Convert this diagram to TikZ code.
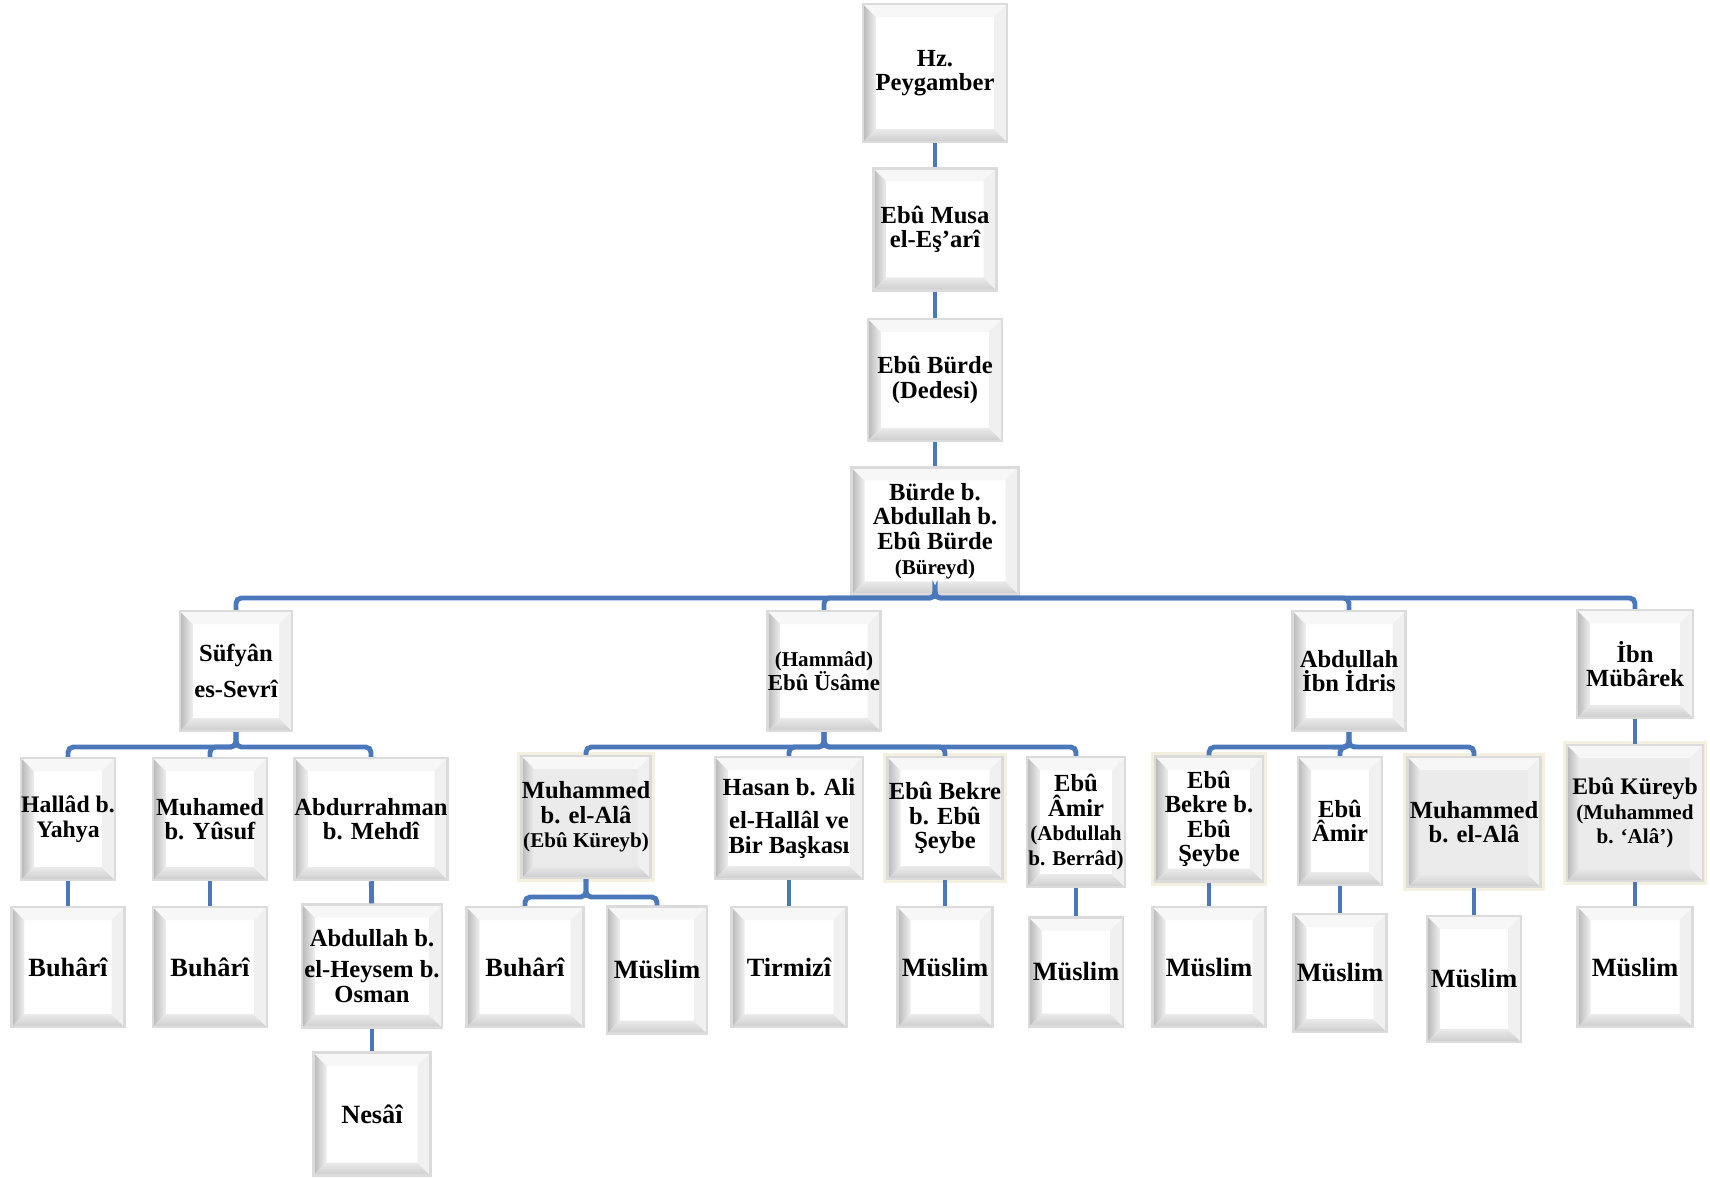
\documentclass[tikz,border=0pt]{standalone}
\usepackage{fontspec}
\setmainfont{Liberation Serif}
\usepackage{tikz}
\usetikzlibrary{positioning, calc}
\definecolor{linkblue}{RGB}{74,120,186}
\definecolor{halo}{RGB}{243,240,224}
\newcommand{\bevelfaces}{%
  \coordinate (bA) at (path picture bounding box.south west);
  \coordinate (bB) at (path picture bounding box.north west);
  \coordinate (bC) at (path picture bounding box.north east);
  \coordinate (bD) at (path picture bounding box.south east);
  \shade[left color=black!28, right color=black!6] (bA) -- (bB) -- ([shift={(0.26cm,-0.26cm)}]bB) -- ([shift={(0.26cm,0.26cm)}]bA) -- cycle;
  \shade[top color=black!8, bottom color=black!20] (bA) -- (bD) -- ([shift={(-0.26cm,0.26cm)}]bD) -- ([shift={(0.26cm,0.26cm)}]bA) -- cycle;
  \fill[black!3] (bB) -- (bC) -- ([shift={(-0.26cm,-0.26cm)}]bC) -- ([shift={(0.26cm,-0.26cm)}]bB) -- cycle;
  \fill[black!6] (bC) -- (bD) -- ([shift={(-0.26cm,0.26cm)}]bD) -- ([shift={(-0.26cm,-0.26cm)}]bC) -- cycle;
}
\newcommand{\subline}[1]{{\fontsize{12}{12}\selectfont #1}}
\tikzstyle{link} = [linkblue, line width=2.8pt, rounded corners=3pt]
\tikzstyle{person} = [rectangle, draw=black!14, line width=1.4pt, fill=white, align=center, inner sep=0pt, font=\bfseries\fontsize{14}{14}\selectfont, path picture={\bevelfaces}]
\tikzstyle{work} = [person, font=\bfseries\fontsize{15}{16}\selectfont]
\tikzstyle{greyface} = [fill=black!8]
\tikzstyle{glow} = [preaction={draw=halo, line width=5pt}]
\tikzset{dims/.style 2 args={minimum width=#1*0.02cm, minimum height=#2*0.02cm}}

\begin{document}
\begin{tikzpicture}[x=0.02cm, y=-0.02cm]
    \useasboundingbox (0,0) rectangle (1710,1177);

    % Chain
    \node[person, dims={144}{138}] (p0) at (935,73) {Hz.\\Peygamber};
    \node[person, dims={123}{122}, below=0.48cm of p0] (p1) {Ebû Musa\\el-Eş'arî};
    \node[person, dims={134}{122}, below=0.52cm of p1] (p2) {Ebû Bürde\\(Dedesi)};
    \node[person, dims={167}{127}, below=0.48cm of p2, font=\bfseries\fontsize{14}{14}\selectfont] (p3) {Bürde b.\\Abdullah b.\\Ebû Bürde\\\subline{(Büreyd)}};

    % Students
    \node[person, dims={112}{120}] (s1) at (236,671) {Süfyân\\[6pt]es-Sevrî};
    \node[person, dims={113}{120}, font=\bfseries\fontsize{13}{14}\selectfont] (s2) at (824,671) {\subline{(Hammâd)}\\Ebû Üsâme};
    \node[person, dims={113}{120}] (s3) at (1349,671) {Abdullah\\İbn İdris};
    \node[person, dims={116}{108}] (s4) at (1635,664) {İbn\\Mübârek};

    % Narrators
    \node[person, dims={93}{122}, font=\bfseries\fontsize{13.5}{14}\selectfont] (t1) at (68,819) {Hallâd b.\\Yahya};
    \node[person, dims={114}{122}] (t2) at (210,819) {Muhamed\\b. Yûsuf};
    \node[person, dims={153}{122}] (t3) at (371,819) {Abdurrahman\\b. Mehdî};
    \node[person, greyface, glow, dims={129}{122}] (t4) at (586,817) {Muhammed\\b. el-Alâ\\\subline{(Ebû Küreyb)}};
    \node[person, dims={148}{122}] (t5) at (789,818) {Hasan b. Ali\\[5pt]el-Hallâl ve\\Bir Başkası};
    \node[person, glow, dims={115}{122}] (t6) at (945,818) {Ebû Bekre\\b. Ebû\\Şeybe};
    \node[person, dims={98}{130}] (t7) at (1076,822) {Ebû\\Âmir\\\subline{(Abdullah}\\\subline{b. Berrâd)}};
    \node[person, glow, dims={108}{125}] (t8) at (1209,819) {Ebû\\Bekre b.\\Ebû\\Şeybe};
    \node[person, dims={84}{128}] (t9) at (1340,821) {Ebû\\Âmir};
    \node[person, greyface, glow, dims={133}{130}] (t10) at (1474,822) {Muhammed\\b. el-Alâ};
    \node[person, greyface, glow, dims={136}{136}, font=\bfseries\fontsize{13.5}{14}\selectfont] (t11) at (1635,813) {Ebû Küreyb\\\subline{(Muhammed}\\\subline{b. ‘Alâ’)}};

    % Collections
    \node[work, dims={113}{120}] (u1) at (68,967) {Buhârî};
    \node[work, dims={114}{120}] (u2) at (210,967) {Buhârî};
    \node[person, dims={140}{123}] (u3) at (372,966) {Abdullah b.\\[4pt]el-Heysem b.\\Osman};
    \node[work, dims={117}{120}] (u4) at (525,967) {Buhârî};
    \node[work, dims={100}{127}] (u5) at (657,970) {Müslim};
    \node[work, dims={115}{120}] (u6) at (789,967) {Tirmizî};
    \node[work, dims={95}{120}] (u7) at (945,967) {Müslim};
    \node[work, dims={94}{109}] (u8) at (1076,972) {Müslim};
    \node[work, dims={113}{120}] (u9) at (1209,967) {Müslim};
    \node[work, dims={93}{118}] (u10) at (1340,973) {Müslim};
    \node[work, dims={94}{126}] (u11) at (1474,979) {Müslim};
    \node[work, dims={115}{120}] (u12) at (1635,967) {Müslim};
    \node[work, dims={117}{123}] (v1) at (372,1114) {Nesâî};

    % Bus levels
    \coordinate (busA) at (0,598);
    \coordinate (busB) at (0,747);
    \coordinate (busC) at (0,897);

    % Links
    \draw[link] (p0) -- (p1);
    \draw[link] (p1) -- (p2);
    \draw[link] (p2) -- (p3);
    \foreach \c in {s1,s2,s3,s4}
        \draw[link] (p3.south) |- (busA -| \c.north) -- (\c.north);
    \foreach \c in {t1,t2,t3}
        \draw[link] (s1.south) |- (busB -| \c.north) -- (\c.north);
    \foreach \c in {t4,t5,t6,t7}
        \draw[link] (s2.south) |- (busB -| \c.north) -- (\c.north);
    \foreach \c in {t8,t9,t10}
        \draw[link] (s3.south) |- (busB -| \c.north) -- (\c.north);
    \draw[link] (s4.south) -- (s4.south |- t11.north);
    \foreach \c in {u4,u5}
        \draw[link] (t4.south) |- (busC -| \c.north) -- (\c.north);
    \draw[link] (t1) -- (u1);
    \draw[link] (t2) -- (u2);
    \draw[link] (t3) -- (u3);
    \draw[link] (u3) -- (v1);
    \draw[link] (t5) -- (u6);
    \draw[link] (t6) -- (u7);
    \draw[link] (t7) -- (u8);
    \draw[link] (t8) -- (u9);
    \draw[link] (t9) -- (u10);
    \draw[link] (t10) -- (u11);
    \draw[link] (t11) -- (u12);
\end{tikzpicture}
\end{document}
